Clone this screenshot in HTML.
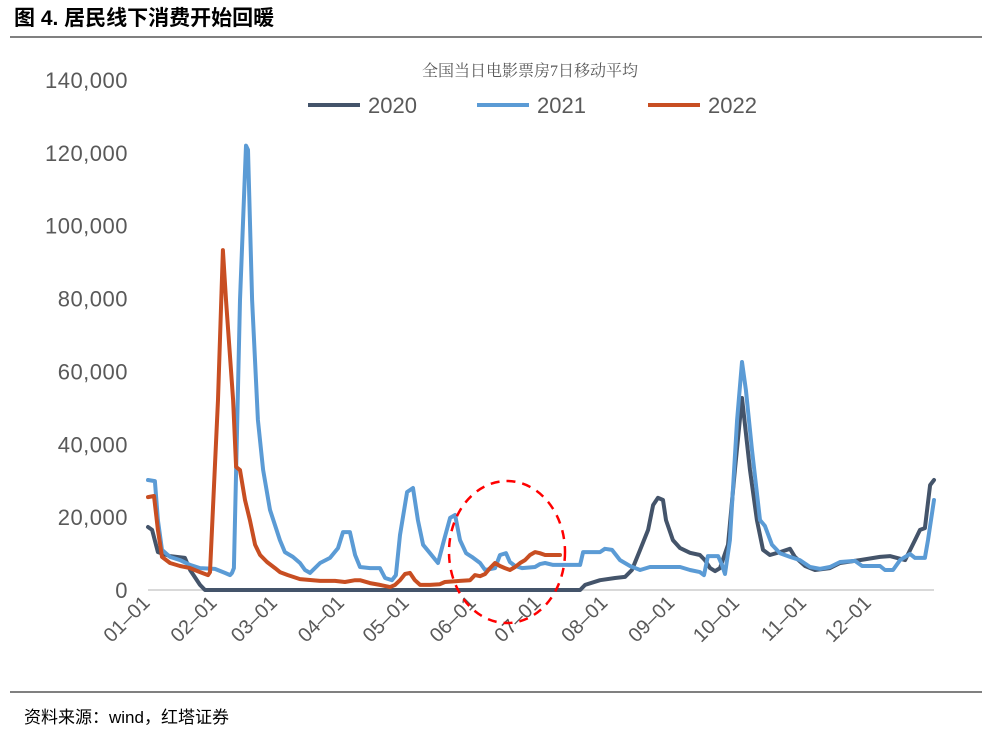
<!DOCTYPE html>
<html><head><meta charset="utf-8"><style>
body{margin:0;background:#fff;width:990px;height:737px;overflow:hidden;font-family:"Liberation Sans","Noto Sans CJK SC",sans-serif}
</style></head><body>
<svg width="990" height="737" xmlns="http://www.w3.org/2000/svg">
<text x="14" y="25" font-size="21" font-weight="bold" font-family="'Liberation Sans','Noto Sans CJK SC',sans-serif" fill="#000">图 4. 居民线下消费开始回暖</text>
<line x1="10" y1="37" x2="982" y2="37" stroke="#000" stroke-width="1"/>
<line x1="10" y1="692" x2="982" y2="692" stroke="#000" stroke-width="1"/>
<text x="24" y="723" font-size="17" font-family="'Liberation Sans','Noto Sans CJK SC',sans-serif" fill="#000">资料来源：wind，红塔证券</text>
<text x="530" y="76" text-anchor="middle" font-size="16" font-family="'Liberation Serif','Noto Serif CJK SC',serif" fill="#595959">全国当日电影票房7日移动平均</text>
<g id="legend"></g>
<g id="yaxis"></g>
<g id="xaxis"></g>
<line x1="148" y1="590" x2="934" y2="590" stroke="#d9d9d9" stroke-width="2"/>
<g id="series"></g>
<ellipse cx="507" cy="552" rx="58" ry="71" fill="none" stroke="#ff0000" stroke-width="2.5" stroke-dasharray="9,7"/>
</svg>
<script>
const yTicks=[0,20000,40000,60000,80000,100000,120000,140000];
const monthLabels=["01-01","02-01","03-01","04-01","05-01","06-01","07-01","08-01","09-01","10-01","11-01","12-01"];
const monthStartDays=[0,31,59,90,120,151,181,212,243,273,304,334];
const seriesNames=["2020","2021","2022"];
const seriesColors=["#44546a","#5b9bd5","#c84e22"];
// [day-of-year, box office]
const days2020=[0,1.9,4.6,10.2,17.1,19.5,24.1,26.4,200.1,202.4,209.3,216.3,220.9,224.1,227.9,231.6,233.9,236.2,238.5,239.9,243.1,246.4,251.0,255.6,257.9,260.3,262.6,264.9,268.6,271.8,275.1,278.8,282.0,284.8,288.0,292.7,297.3,299.6,304.3,308.9,315.8,320.5,329.7,339.0,343.6,350.6,355.2,357.5,359.8,362.2,364];
const vals2020=[17300,16500,10400,9300,8800,5500,1400,0,0,1400,2700,3300,3600,5500,11000,16500,23300,25300,24700,19200,13700,11500,10200,9600,8200,6000,5200,6000,12400,32900,52700,32900,19200,11000,9600,10400,11300,9100,6600,5500,6000,7400,8200,9100,9300,8200,13700,16500,17000,28800,30200];
const days2021=[0,3.2,4.6,6.5,10.2,14.8,19.5,24.1,31.0,35.6,38.0,38.9,39.8,42.6,45.4,46.3,48.2,50.9,53.3,56.5,61.1,63.4,67.1,70.4,72.7,75.0,79.7,84.3,88.0,90.3,93.5,95.9,98.2,102.8,107.4,109.8,113.0,114.8,116.7,120.0,122.7,125.0,127.4,130.6,134.3,137.1,139.9,142.2,144.5,147.3,150.0,153.8,156.1,160.7,163.0,165.8,167.6,170.0,173.2,179.2,181.5,183.9,187.6,200.1,201.5,209.3,211.6,214.9,218.6,223.2,227.9,232.5,246.4,251.0,255.6,257.5,259.3,264.0,265.8,267.2,269.5,272.8,275.1,276.9,279.7,283.4,285.7,289.0,292.7,297.3,301.9,306.6,311.2,315.8,320.5,327.4,330.7,339.0,341.3,345.0,348.3,352.9,355.2,359.8,361.2,364];
const vals2021=[30200,29900,19200,11000,9100,8200,6900,6000,5800,4700,4100,4700,6000,79600,122000,120800,79600,46700,33000,22000,13700,10400,9100,7400,5500,4700,7400,8800,11500,15900,15900,9600,6300,6000,6000,3300,2700,4100,15100,26900,28000,19200,12400,10100,7400,13700,19800,20600,13700,10100,9100,7400,5500,6000,9600,10100,7700,6600,6000,6300,7100,7400,6900,6900,10400,10400,11300,11000,8200,6600,5500,6300,6300,5500,4900,4100,9300,9300,6900,4400,13700,46700,62600,54900,38400,19200,17600,12400,10100,9100,8200,6300,5800,6300,7700,8000,6600,6600,5500,5500,8200,9900,8800,8800,13700,24700];
const days2022=[0,2.8,4.6,6.5,10.2,14.8,19.5,24.1,27.8,28.7,32.4,34.7,36.1,39.4,40.8,42.6,44.9,47.2,49.6,51.9,55.1,58.8,61.1,64.8,70.4,79.7,86.6,91.2,95.9,98.2,102.8,107.4,112.1,114.4,116.7,119.0,121.3,123.6,126.0,130.6,135.2,137.5,144.5,149.1,151.4,153.8,156.1,158.4,160.7,163.0,165.3,167.6,170.0,172.3,174.6,176.9,179.2,181.5,183.9,190.8];
const vals2022=[25500,25800,16500,9100,7400,6600,6000,4900,4100,4900,52200,93300,79600,52200,33800,32900,24700,19200,12400,9600,7700,6000,4900,4100,3000,2500,2500,2200,2700,2700,1900,1400,800,1400,2700,4400,4700,2700,1400,1400,1600,2200,2500,2700,4100,3800,4400,6000,7400,6600,6000,5500,6300,7400,8200,9600,10400,10100,9600,9600];
const allDays=[days2020,days2021,days2022];
const allVals=[vals2020,vals2021,vals2022];

const NS="http://www.w3.org/2000/svg";
const x0=148,x1=934,y0=590,y1=80;
function xs(d){return x0+(x1-x0)*d/364;}
function ys(v){return y0-(y0-y1)*v/140000;}

const yg=document.getElementById('yaxis');
yTicks.forEach(t=>{
  const el=document.createElementNS(NS,'text');
  
  
  el.setAttribute('x',128);el.setAttribute('y',ys(t)+8);
  el.setAttribute('text-anchor','end');el.setAttribute('font-size','22');el.setAttribute('fill','#595959');
  el.setAttribute('letter-spacing','0.5');
  el.textContent=t.toLocaleString('en-US');
  yg.appendChild(el);
});
const xg=document.getElementById('xaxis');
monthLabels.forEach((m,i)=>{
  const el=document.createElementNS(NS,'text');
  
  
  const x=xs(monthStartDays[i])+3,y=604;
  el.setAttribute('x',x);el.setAttribute('y',y);
  el.setAttribute('text-anchor','end');el.setAttribute('font-size','20');el.setAttribute('fill','#595959');
  el.setAttribute('transform','rotate(-45 '+x+' '+y+')');
  el.textContent=m.replace('-','\u2013');
  xg.appendChild(el);
});
const sg=document.getElementById('series');
allDays.forEach((ds,k)=>{
  const pts=ds.map((d,i)=>xs(d).toFixed(1)+','+ys(allVals[k][i]).toFixed(1)).join(' ');
  const pl=document.createElementNS(NS,'polyline');
  
  
  pl.setAttribute('points',pts);pl.setAttribute('fill','none');
  pl.setAttribute('stroke',seriesColors[k]);pl.setAttribute('stroke-width','4');
  pl.setAttribute('stroke-linejoin','round');pl.setAttribute('stroke-linecap','round');
  sg.appendChild(pl);
});
const lg=document.getElementById('legend');
const legX=[308,477,648];
seriesNames.forEach((n,k)=>{
  const ln=document.createElementNS(NS,'line');
  
  
  ln.setAttribute('x1',legX[k]);ln.setAttribute('x2',legX[k]+52);
  ln.setAttribute('y1',105);ln.setAttribute('y2',105);
  ln.setAttribute('stroke',seriesColors[k]);ln.setAttribute('stroke-width','4');
  lg.appendChild(ln);
  const t=document.createElementNS(NS,'text');
  
  
  t.setAttribute('x',legX[k]+60);t.setAttribute('y',113);
  t.setAttribute('font-size','22');t.setAttribute('fill','#595959');
  t.textContent=n;
  lg.appendChild(t);
});
</script>
</body></html>
